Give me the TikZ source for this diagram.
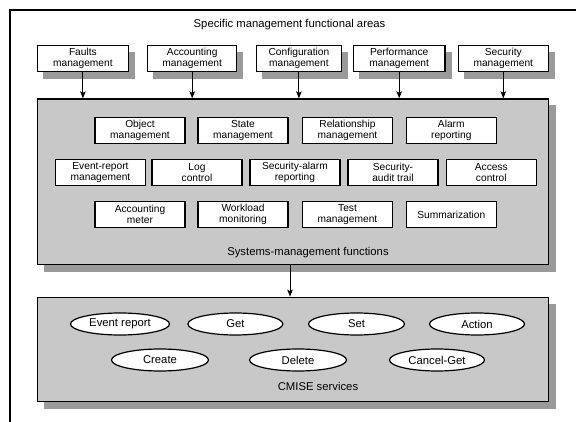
\documentclass[tikz,border=0pt]{standalone}
\usepackage{fontspec}
\setmainfont{Liberation Sans}
\usetikzlibrary{arrows.meta,backgrounds,shapes.geometric}
\definecolor{panelgray}{HTML}{C8C8C8}
\definecolor{shadegray}{HTML}{9A9A9A}
\newcommand\diagboxfont{\fontsize{10.2}{10.6}\selectfont}
\newcommand\diaglabelfont{\fontsize{11.3}{12}\selectfont}
\begin{document}
\begin{tikzpicture}[x=1pt,y=-1pt,
  areabox/.style={draw=black, line width=1.2pt, fill=white, minimum height=26.5pt,
    inner sep=0pt, align=center, font=\diagboxfont},
  funcbox/.style={draw=black, line width=1.2pt, fill=white, minimum width=90pt,
    minimum height=25.8pt, inner sep=0pt, align=center, font=\diagboxfont},
  panel/.style={draw=black, line width=1.3pt, fill=panelgray, inner sep=0pt},
  service/.style={ellipse, draw=black, line width=1.2pt, fill=white,
    minimum height=22pt, inner sep=0pt, font=\diaglabelfont},
  caption/.style={font=\diaglabelfont, inner sep=0pt},
  shade/.style={fill=shadegray},
  flow/.style={line width=1pt, -{Stealth[length=7pt,width=5.5pt,inset=1.5pt]}}
]
\useasboundingbox (0,0) rectangle (576,422);

% outer frame (only its top and left sides fall inside the page)
\draw[line width=1.4pt] (10,430) -- (10,10) -- (590,10);

% specific management functional areas
\node[caption] (title) at (289.5,25) {Specific management functional areas};
\node[areabox, minimum width=90.5pt] (faults) at (82.9,58.4) {Faults\\management};
\node[areabox, minimum width=89pt]   (acct)   at (192.2,58.4) {Accounting\\management};
\node[areabox, minimum width=85pt]   (conf)   at (298.9,58.4) {Configuration\\management};
\node[areabox, minimum width=91.5pt] (perf)   at (399.2,58.4) {Performance\\management};
\node[areabox, minimum width=90pt]   (secu)   at (503.3,58.4) {Security\\management};

% systems-management functions panel
\node[panel, minimum width=511pt, minimum height=165.3pt] (smf) at (292.8,181.65) {};
\node[caption] (smflabel) at (308,253) {Systems-management functions};

\node[funcbox] (object)  at (140,130.5)   {Object\\management};
\node[funcbox] (state)   at (243,130.5)   {State\\management};
\node[funcbox] (relat)   at (347.5,130.5) {Relationship\\management};
\node[funcbox] (alarm)   at (451.3,130.5) {Alarm\\reporting};

\node[funcbox] (event)   at (100.5,172.5) {Event-report\\management};
\node[funcbox] (log)     at (197,172.5)   {Log\\control};
\node[funcbox] (secalarm) at (294.9,172.5) {Security-alarm\\reporting};
\node[funcbox] (audit)   at (393,172.5)   {Security-\\audit trail};
\node[funcbox] (access)  at (491.3,172.5) {Access\\control};

\node[funcbox] (meter)   at (140,214.5)   {Accounting\\meter};
\node[funcbox] (workload) at (243,214.5)  {Workload\\monitoring};
\node[funcbox] (test)    at (347.5,214.5) {Test\\management};
\node[funcbox] (summ)    at (451.3,214.5) {Summarization};

% CMISE services panel
\node[panel, minimum width=511pt, minimum height=104.4pt] (cmise) at (292.8,349.5) {};
\node[caption] (cmiselabel) at (318,386.5) {CMISE services};

\node[service, minimum width=99pt] (evrep)  at (120,324)   {Event report};
\node[service, minimum width=95pt] (get)    at (235.4,324) {Get};
\node[service, minimum width=96pt] (set)    at (356.5,324) {Set};
\node[service, minimum width=95pt] (action) at (477,324)   {Action};
\node[service, minimum width=97pt] (create) at (160,360)   {Create};
\node[service, minimum width=97pt] (delete) at (298,360)   {Delete};
\node[service, minimum width=95pt] (cancel) at (437,360)   {Cancel-Get};

% flat offset shadows behind the area boxes and the two panels
\begin{scope}[on background layer]
  \foreach \n in {faults,acct,conf,perf,secu}
    \fill[shade] ([xshift=6pt,yshift=-7pt]\n.south west) rectangle ([xshift=6pt,yshift=-7pt]\n.north east);
  \foreach \n in {smf,cmise}
    \fill[shade] ([xshift=7pt,yshift=-7pt]\n.south west) rectangle ([xshift=7pt,yshift=-7pt]\n.north east);
\end{scope}

% connectors
\foreach \n in {faults,acct,conf,perf,secu}
  \draw[flow] (\n.south) -- (\n.south |- smf.north);
\coordinate (drop) at (290,264.3);
\draw[flow] (drop) -- (drop |- cmise.north);
\end{tikzpicture}
\end{document}
